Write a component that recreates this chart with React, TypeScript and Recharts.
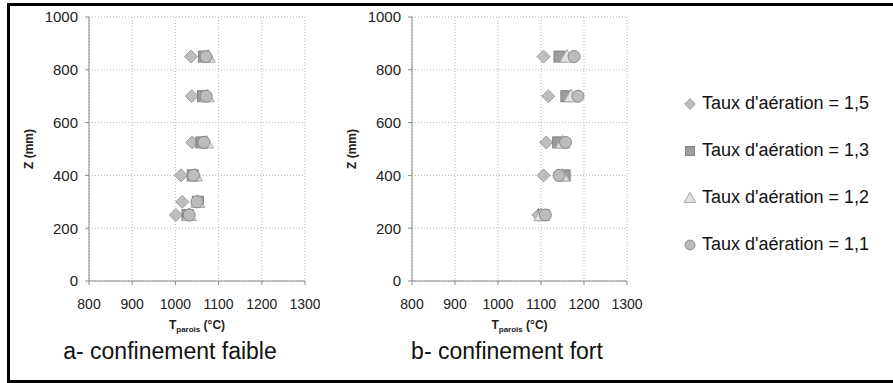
import React from 'react';
import { ScatterChart, Scatter, XAxis, YAxis, CartesianGrid, Legend } from 'recharts';

const FONT = '"Liberation Sans", Arial, sans-serif';

const xTicks = [800, 900, 1000, 1100, 1200, 1300];
const yTicks = [0, 200, 400, 600, 800, 1000];

// a- confinement faible
const zFaible = [250, 300, 400, 525, 700, 850];
const faible15 = [1001, 1016, 1013, 1039, 1038, 1036];
const faible13 = [1028, 1052, 1040, 1060, 1064, 1066];
const faible12 = [1032, 1052, 1046, 1072, 1074, 1076];
const faible11 = [1032, 1050, 1042, 1066, 1071, 1071];

// b- confinement fort
const zFort = [250, 400, 525, 700, 850];
const fort15 = [1094, 1106, 1112, 1117, 1106];
const fort13 = [1106, 1155, 1140, 1159, 1143];
const fort12 = [1100, 1150, 1150, 1170, 1160];
const fort11 = [1110, 1142, 1157, 1186, 1177];

const seriesNames = [
  "Taux d'aération = 1,5",
  "Taux d'aération = 1,3",
  "Taux d'aération = 1,2",
  "Taux d'aération = 1,1",
];
const captions = ['a- confinement faible', 'b- confinement fort'];

const DiamondMark = ({ cx, cy, k = 1 }: any) => {
  const s = 6.5 * k;
  return (
    <polygon
      points={`${cx},${cy - s} ${cx + s},${cy} ${cx},${cy + s} ${cx - s},${cy}`}
      fill="#bebebe"
      stroke="#9c9c9c"
      strokeWidth={1}
    />
  );
};
const SquareMark = ({ cx, cy, k = 1 }: any) => {
  const s = 5.5 * k;
  return <rect x={cx - s} y={cy - s} width={2 * s} height={2 * s} fill="#9d9d9d" stroke="#808080" strokeWidth={1} />;
};
const TriangleMark = ({ cx, cy, k = 1 }: any) => {
  const s = 7 * k;
  return (
    <polygon
      points={`${cx},${cy - s} ${cx + s},${cy + s * 0.8} ${cx - s},${cy + s * 0.8}`}
      fill="#e2e2e2"
      stroke="#a6a6a6"
      strokeWidth={1}
    />
  );
};
const CircleMark = ({ cx, cy, k = 1 }: any) => (
  <circle cx={cx} cy={cy} r={6 * k} fill="#bcbcbc" stroke="#8a8a8a" strokeWidth={1} />
);

const markers = [DiamondMark, SquareMark, TriangleMark, CircleMark];

const ZLabel = (props: any) => {
  const vb = props.viewBox || {};
  const x = vb.x + 4;
  const y = vb.y + vb.height / 2;
  return (
    <text
      x={x}
      y={y}
      transform={`rotate(-90 ${x} ${y})`}
      textAnchor="middle"
      fontSize={12}
      fontWeight="bold"
      fontFamily={FONT}
      fill="#222"
    >
      Z (mm)
    </text>
  );
};

const TLabel = (props: any) => {
  const vb = props.viewBox || {};
  const x = vb.x + vb.width / 2;
  const y = vb.y + 48;
  return (
    <text x={x} y={y} textAnchor="middle" fontSize={12} fontWeight="bold" fontFamily={FONT} fill="#222">
      <tspan>T</tspan>
      <tspan fontSize={8} dy={3}>parois</tspan>
      <tspan dy={-3}> (°C)</tspan>
    </text>
  );
};

const renderLegend = (props: any) => {
  const payload = [...(props.payload || [])].sort(
    (a: any, b: any) => seriesNames.indexOf(a.value) - seriesNames.indexOf(b.value)
  );
  return (
    <div style={{ display: 'flex', flexDirection: 'column' }}>
      {payload.map((entry: any, i: number) => {
        const idx = seriesNames.indexOf(entry.value);
        const Mark = markers[idx >= 0 ? idx : i];
        return (
          <div key={i} style={{ height: 47, display: 'flex', alignItems: 'center' }}>
            <svg width={14} height={14} style={{ overflow: 'visible' }}>
              <Mark cx={7} cy={7} k={0.82} />
            </svg>
            <span style={{ marginLeft: 5, fontSize: 18, fontFamily: FONT, color: '#111', whiteSpace: 'nowrap' }}>
              {entry.value}
            </span>
          </div>
        );
      })}
    </div>
  );
};

function Panel({ z, s15, s13, s12, s11, width, height, margin, withLegend }: any) {
  const mk = (arr: number[]) => z.map((zz: number, i: number) => ({ t: arr[i], z: zz }));
  const all = [s15, s13, s12, s11];
  return (
    <ScatterChart width={width} height={height} margin={margin}>
      <CartesianGrid stroke="#b4b4b4" strokeDasharray="1 2" />
      <XAxis
        type="number"
        dataKey="t"
        domain={[800, 1300]}
        ticks={xTicks}
        interval={0}
        allowDataOverflow
        height={30}
        tickSize={4}
        tickMargin={14}
        axisLine={{ stroke: '#8a8a8a' }}
        tickLine={{ stroke: '#8a8a8a' }}
        tick={{ fontSize: 14, fill: '#222', fontFamily: FONT }}
        label={TLabel}
      />
      <YAxis
        type="number"
        dataKey="z"
        domain={[0, 1000]}
        ticks={yTicks}
        interval={0}
        allowDataOverflow
        width={60}
        tickSize={4}
        tickMargin={7}
        axisLine={{ stroke: '#8a8a8a' }}
        tickLine={{ stroke: '#8a8a8a' }}
        tick={{ fontSize: 15, fill: '#222', fontFamily: FONT }}
        label={ZLabel}
      />
      {all.map((arr: number[], i: number) => {
        const Mark = markers[i];
        return (
          <Scatter
            key={i}
            name={seriesNames[i]}
            data={mk(arr)}
            isAnimationActive={false}
            shape={(p: any) => <Mark cx={p.cx} cy={p.cy} />}
          />
        );
      })}
      {withLegend && (
        <Legend
          layout="vertical"
          align="center"
          verticalAlign="middle"
          wrapperStyle={{ left: 362, top: 80, width: 210 }}
          content={renderLegend}
        />
      )}
    </ScatterChart>
  );
}

export default function App() {
  return (
    <div
      style={{
        position: 'absolute',
        left: 0,
        top: 0,
        width: 893,
        height: 383,
        overflow: 'hidden',
        background: '#fff',
        fontFamily: FONT,
      }}
    >
      <svg width={893} height={383} style={{ position: 'absolute', left: 0, top: 0 }}>
        <rect x={8.5} y={4.5} width={900} height={377} fill="none" stroke="#000" strokeWidth={3} />
        <text x={170} y={359} textAnchor="middle" fontSize={23} fontFamily={FONT} fill="#111">
          {captions[0]}
        </text>
        <text x={507} y={359} textAnchor="middle" fontSize={23} fontFamily={FONT} fill="#111">
          {captions[1]}
        </text>
      </svg>
      <div style={{ position: 'absolute', left: 0, top: 0 }}>
        <Panel
          z={zFaible}
          s15={faible15}
          s13={faible13}
          s12={faible12}
          s11={faible11}
          width={320}
          height={345}
          margin={{ top: 17, right: 15, bottom: 34, left: 29 }}
        />
      </div>
      <div style={{ position: 'absolute', left: 321, top: 0 }}>
        <Panel
          z={zFort}
          s15={fort15}
          s13={fort13}
          s12={fort12}
          s11={fort11}
          width={572}
          height={345}
          margin={{ top: 17, right: 266, bottom: 34, left: 31 }}
          withLegend
        />
      </div>
    </div>
  );
}
